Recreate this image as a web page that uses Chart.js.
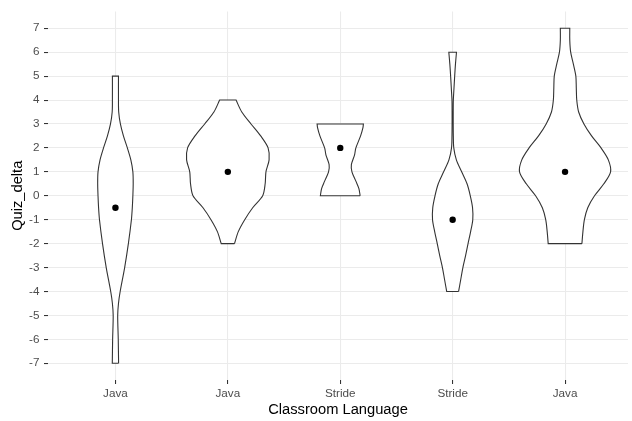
<!DOCTYPE html>
<html>
<head>
<meta charset="utf-8">
<script src="https://cdn.jsdelivr.net/npm/chart.js@4.4.1/dist/chart.umd.min.js"></script>
<style>
  html, body { margin: 0; padding: 0; background: #ffffff; }
  #wrap { width: 632px; height: 421px; }
</style>
</head>
<body>
<div id="wrap"><canvas id="violinChart" width="632" height="421"></canvas></div>
<script>
// categories along x, one violin each
const categories = ['Java', 'Java', 'Stride', 'Stride', 'Java'];
const yTicks = [-7, -6, -5, -4, -3, -2, -1, 0, 1, 2, 3, 4, 5, 6, 7];

// summary point drawn in each violin
const pointValues = [-0.5, 1, 2, -1, 1];

// violin outlines: y levels and half-widths (in category units)
const levels1 = [-7, -6, -5, -4.5, -4, -3, -2, -1, -0.5, 0, 0.5, 1, 1.5, 2, 2.5, 3, 3.5, 4, 5];
const widths1 = [0.028, 0.025, 0.02, 0.027, 0.042, 0.082, 0.115, 0.142, 0.15, 0.155, 0.158, 0.155, 0.137, 0.106, 0.071, 0.044, 0.029, 0.027, 0.027];

const levels2 = [-2, -1.5, -1, -0.5, 0, 0.5, 1, 1.5, 2, 2.5, 3, 3.5, 4];
const widths2 = [0.059, 0.093, 0.15, 0.221, 0.31, 0.332, 0.339, 0.367, 0.358, 0.292, 0.206, 0.124, 0.073];

const levels3 = [0, 0.3, 0.6, 1, 1.3, 1.7, 2, 2.5, 2.85, 3];
const widths3 = [0.177, 0.166, 0.14, 0.104, 0.099, 0.127, 0.139, 0.181, 0.202, 0.206];

const levels4 = [-4, -3.5, -3, -2.5, -2, -1.5, -1, -0.5, 0, 0.5, 1, 1.5, 2, 2.5, 3, 3.5, 4, 4.5, 5, 5.5, 6];
const widths4 = [0.053, 0.072, 0.091, 0.115, 0.137, 0.16, 0.179, 0.177, 0.157, 0.128, 0.08, 0.033, 0.01, 0.006, 0.005, 0.005, 0.006, 0.012, 0.018, 0.025, 0.034];

const levels5 = [-2, -1.5, -1, -0.5, 0, 0.5, 1, 1.5, 2, 2.5, 3, 3.5, 4, 4.5, 5, 5.5, 6, 6.5, 7];
const widths5 = [0.15, 0.159, 0.172, 0.202, 0.262, 0.345, 0.405, 0.385, 0.32, 0.236, 0.168, 0.121, 0.104, 0.1, 0.096, 0.074, 0.05, 0.042, 0.042];

const violinLevels = [levels1, levels2, levels3, levels4, levels5];
const violinWidths = [widths1, widths2, widths3, widths4, widths5];

Chart.defaults.font.family = '"Liberation Sans", Arial, sans-serif';

// closed outline: up the right side, across the top, down the left side, back across the bottom.
// corner points are repeated so the spline keeps the flat ends square
const outline = (center, levels, widths) => {
    const right = levels.map((y, i) => ({ x: center + widths[i], y }));
    const left  = levels.map((y, i) => ({ x: center - widths[i], y })).reverse();
    const rTop = right[right.length - 1];
    const lBottom = left[left.length - 1];
    return [...right, rTop, left[0], ...left, lBottom, right[0]];
};

const violinSets = violinLevels.map((lv, i) => ({
    data: outline(i + 1, lv, violinWidths[i]),
    showLine: true,
    pointRadius: 0,
    borderColor: '#333333',
    borderWidth: 1.1,
    borderJoinStyle: 'miter',
    backgroundColor: '#ffffff',
    fill: 'shape',
    tension: 0.3,
    order: 2,
}));

const pointSet = {
    data: pointValues.map((y, i) => ({ x: i + 1, y })),
    pointRadius: 3.2,
    backgroundColor: '#000000',
    borderWidth: 0,
    order: 1,
};

const tickFont = { size: 11.7 };
const gridStyle = { color: '#ebebeb', lineWidth: 1.07, tickLength: 4, tickColor: '#333333', tickWidth: 1.07 };

new Chart(document.getElementById('violinChart').getContext('2d'), {
    type: 'scatter',
    data: { datasets: [pointSet, ...violinSets] },
    options: {
        responsive: false,
        animation: false,
        layout: { padding: { top: 7.4, right: 1, left: 0, bottom: 0 } },
        plugins: {
            legend: { display: false },
            tooltip: { enabled: false },
        },
        scales: {
            x: {
                type: 'linear',
                min: 0.4,
                max: 5.56,
                afterBuildTicks: (s) => { s.ticks = categories.map((_, i) => ({ value: i + 1 })); },
                afterFit: (s) => { s.height = 41; },
                ticks: {
                    callback: (v, i) => categories[i],
                    autoSkip: false,
                    maxRotation: 0,
                    padding: 3,
                    font: tickFont,
                    color: '#4d4d4d',
                },
                grid: gridStyle,
                border: { display: false },
                title: { display: true, text: 'Classroom Language', color: '#000000', font: { size: 14.7 }, padding: { top: 0, bottom: 2 } },
            },
            y: {
                type: 'linear',
                min: -7.7,
                max: 7.7,
                afterBuildTicks: (s) => { s.ticks = yTicks.map((v) => ({ value: v })); },
                afterFit: (s) => { s.width = 48; },
                ticks: {
                    callback: (v) => String(v),
                    padding: 4.5,
                    font: tickFont,
                    color: '#4d4d4d',
                },
                grid: gridStyle,
                border: { display: false },
                title: { display: true, text: 'Quiz_delta', color: '#000000', font: { size: 14.7 }, padding: { top: 9, bottom: 0 } },
            },
        },
    },
});
</script>
</body>
</html>
